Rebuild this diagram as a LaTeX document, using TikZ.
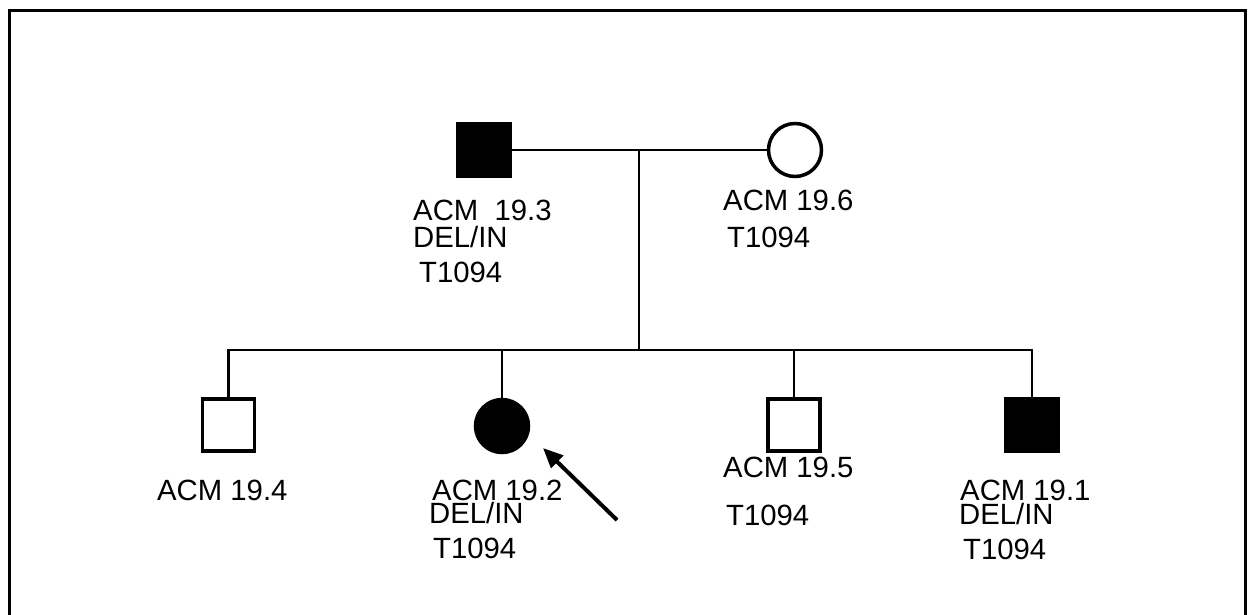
\documentclass[tikz,border=0pt]{standalone}
\usepackage{fontspec}
\setmainfont{Liberation Sans}
\usetikzlibrary{arrows.meta}
\begin{document}
\begin{tikzpicture}[x=1pt,y=-1pt,
  male/.style={draw=black,line width=3.5pt,rectangle,minimum size=52pt,inner sep=0pt},
  female/.style={draw=black,line width=3.5pt,circle,minimum size=53pt,inner sep=0pt},
  affected/.style={fill=black},
  link/.style={draw=black,line width=2.6pt},
  lbl/.style={anchor=base west,inner sep=0pt,font=\fontsize{29.3}{31}\selectfont},
  frame/.style={draw=black,line width=3pt}]
\useasboundingbox (0,0) rectangle (1249,614);
% frame
\draw[frame] (9.5,620) -- (9.5,10) -- (1245,10) -- (1245,620);
% parents
\node[male,affected] (f) at (484,150) {};
\node[female] (m) at (795,150) {};
% children
\node[male] (c4) at (228.5,425) {};
\node[female,affected] (c2) at (502,426) {};
\node[male] (c5) at (794,425) {};
\node[male,affected] (c1) at (1032,425) {};
% connectors
\coordinate (mid) at (639,150);
\coordinate (sib) at (639,350);
\coordinate (sibL) at (228.5,350);
\coordinate (sibR) at (1032,350);
\draw[link] (f.east) -- (m.west);
\draw[link] (mid) -- (sib);
\draw[link,line cap=rect] (sibL) -- (sibR);
\draw[link] (sibL) -- (c4.north);
\draw[link] (c2.north |- sibL) -- (c2.north);
\draw[link] (c5.north |- sibL) -- (c5.north);
\draw[link] (sibR) -- (c1.north);
% proband arrow
\coordinate (arrTail) at (617,520);
\coordinate (arrTip) at (543,448);
\draw[line width=4pt,-{Triangle[length=20pt,width=17pt]}] (arrTail) -- (arrTip);
% labels
\node[lbl] (lf1) at (413,220) {ACM\ \ 19.3};
\node[lbl] (lf2) at (413,247) {DEL/IN};
\node[lbl] (lf3) at (419,282) {T1094};
\node[lbl] (lm1) at (723,210) {ACM 19.6};
\node[lbl] (lm2) at (727,247) {T1094};
\node[lbl] (l41) at (157,500) {ACM 19.4};
\node[lbl] (l21) at (432,500) {ACM 19.2};
\node[lbl] (l22) at (429,523) {DEL/IN};
\node[lbl] (l23) at (433,558) {T1094};
\node[lbl] (l51) at (723,477) {ACM 19.5};
\node[lbl] (l52) at (726,525) {T1094};
\node[lbl] (l11) at (960,500) {ACM 19.1};
\node[lbl] (l12) at (959,524) {DEL/IN};
\node[lbl] (l13) at (963,559) {T1094};
\end{tikzpicture}
\end{document}
